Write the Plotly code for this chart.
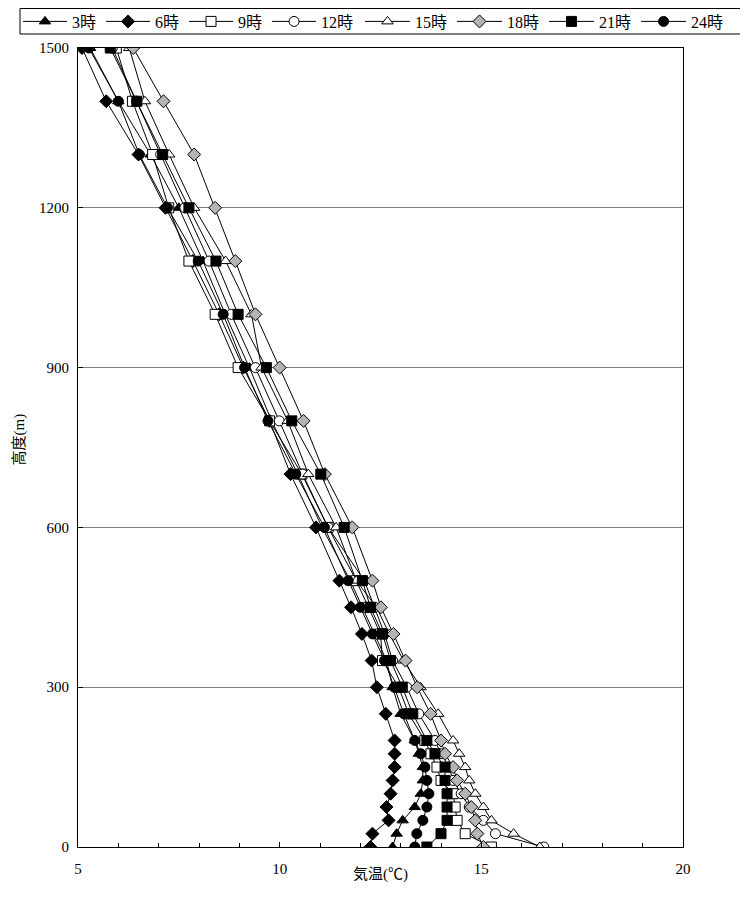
import plotly.graph_objects as go

heights = [0, 25, 50, 75, 100, 125, 150, 175, 200, 250, 300, 350, 400, 450, 500,
           600, 700, 800, 900, 1000, 1100, 1200, 1300, 1400, 1500]

t03 = [12.8, 12.9, 13.05, 13.35, 13.5, 13.55, 13.55, 13.45, 13.35, 13.0, 12.8, 12.65, 12.35, 12.05, 11.75,
       11.05, 10.45, 9.8, 9.25, 8.65, 8.1, 7.5, 6.8, 6.0, 5.3]
t06 = [12.25, 12.3, 12.7, 12.65, 12.75, 12.8, 12.85, 12.85, 12.85, 12.63, 12.41, 12.28, 12.04, 11.77, 11.48,
       10.9, 10.27, 9.75, 9.1, 8.5, 7.85, 7.17, 6.5, 5.7, 5.1]
t09 = [15.25, 14.6, 14.4, 14.35, 14.3, 14.0, 13.9, 13.75, 13.6, 13.2, 12.95, 12.55, 12.5, 12.2, 11.9,
       11.2, 10.55, 9.75, 8.97, 8.4, 7.75, 7.25, 6.85, 6.35, 5.95]
t12 = [16.55, 15.35, 15.05, 14.7, 14.5, 14.3, 14.2, 14.0, 13.85, 13.45, 13.15, 12.8, 12.6, 12.35, 12.1,
       11.2, 10.57, 9.99, 9.4, 8.8, 8.25, 7.65, 7.05, 6.45, 5.85]
t15 = [16.45, 15.8, 15.25, 15.05, 14.85, 14.7, 14.6, 14.45, 14.3, 13.93, 13.49, 13.07, 12.72, 12.4, 11.9,
       11.4, 10.71, 10.2, 9.55, 9.3, 8.66, 7.88, 7.26, 6.66, 6.27]
t18 = [15.05, 14.9, 14.85, 14.75, 14.6, 14.4, 14.3, 14.1, 14.0, 13.74, 13.41, 13.12, 12.82, 12.51, 12.3,
       11.8, 11.12, 10.59, 10.0, 9.4, 8.9, 8.4, 7.88, 7.12, 6.37]
t21 = [13.65, 14.0, 14.15, 14.15, 14.15, 14.1, 14.1, 13.85, 13.65, 13.3, 13.04, 12.75, 12.55, 12.25, 12.05,
       11.6, 11.02, 10.3, 9.67, 8.97, 8.42, 7.75, 7.1, 6.46, 5.8]
t24 = [13.35, 13.4, 13.55, 13.65, 13.7, 13.65, 13.6, 13.5, 13.35, 13.08, 12.84, 12.6, 12.3, 12.0, 11.7,
       11.11, 10.4, 9.71, 9.13, 8.6, 7.98, 7.22, 6.52, 6.0, 5.27]

names = ["3時", "6時", "9時", "12時", "15時", "18時", "21時", "24時"]
series = [t03, t06, t09, t12, t15, t18, t21, t24]
symbols = ["triangle-up", "diamond", "square", "circle", "triangle-up", "diamond", "square", "circle"]
fills = ["black", "black", "white", "white", "white", "#b4b4b4", "black", "black"]
legend_ids = ["legend", "legend", "legend", "legend", "legend2", "legend2", "legend2", "legend2"]

serif = "Liberation Serif, Noto Sans CJK JP, serif"

# geometry (figure px); page shows the figure offset by the 8px body margin
ML, MT, PW, PH = 70, 40, 605, 799
W, H = 748, 914

def px_x(fx):
    return (fx - ML) / PW

def px_y(fy):
    return 1 + (MT - fy) / PH

fig = go.Figure()
for name, vals, sym, fc, lg in zip(names, series, symbols, fills, legend_ids):
    fig.add_trace(go.Scatter(
        x=vals, y=heights, name=name, mode="lines+markers", legend=lg,
        line=dict(color="black", width=1),
        marker=dict(symbol=sym, size=10, color=fc, line=dict(color="black", width=1)),
    ))

leg_common = dict(orientation="h", yanchor="middle", y=px_y(13.5), xanchor="left",
                  borderwidth=0, bgcolor="rgba(0,0,0,0)",
                  font=dict(family=serif, size=16, color="black"),
                  tracegroupgap=0)

fig.update_layout(
    width=W, height=H,
    margin=dict(l=ML, r=W - ML - PW, t=MT, b=H - MT - PH, autoexpand=False),
    paper_bgcolor="white", plot_bgcolor="white",
    font=dict(family=serif, size=15, color="black"),
    showlegend=True,
    legend=dict(x=px_x(10), itemwidth=44, **leg_common),
    legend2=dict(x=px_x(352), itemwidth=45, **leg_common),
    xaxis=dict(range=[5, 20], dtick=5, tick0=5, showgrid=False, zeroline=False,
               showline=True, linecolor="black", linewidth=1, mirror=True,
               ticks="inside", ticklen=5, tickcolor="black", ticklabelstandoff=8,
               minor=dict(dtick=1, ticks="inside", ticklen=4, tickcolor="black"),
               tickfont=dict(family=serif, size=15, color="black")),
    yaxis=dict(range=[0, 1500], dtick=300, showgrid=True, gridcolor="#7f7f7f", gridwidth=1,
               zeroline=False, showline=True, linecolor="black", linewidth=1, mirror=True,
               ticks="inside", ticklen=5, tickcolor="black", ticklabelstandoff=5,
               tickfont=dict(family=serif, size=15, color="black")),
    shapes=[dict(type="rect", xref="paper", yref="paper",
                 x0=px_x(12), x1=px_x(737), y0=px_y(26), y1=px_y(0.5),
                 line=dict(color="black", width=1), fillcolor="rgba(0,0,0,0)", layer="above")],
    annotations=[
        dict(text="気温(℃)", xref="paper", yref="paper", x=0.5, y=px_y(MT + PH + 27),
             xanchor="center", yanchor="middle", showarrow=False,
             font=dict(family=serif, size=15, color="black")),
        dict(text="高度(m)", xref="paper", yref="paper", x=px_x(12), y=0.51,
             xanchor="center", yanchor="middle", showarrow=False, textangle=-90,
             font=dict(family=serif, size=15, color="black")),
    ],
)

fig.write_html("out.html")
